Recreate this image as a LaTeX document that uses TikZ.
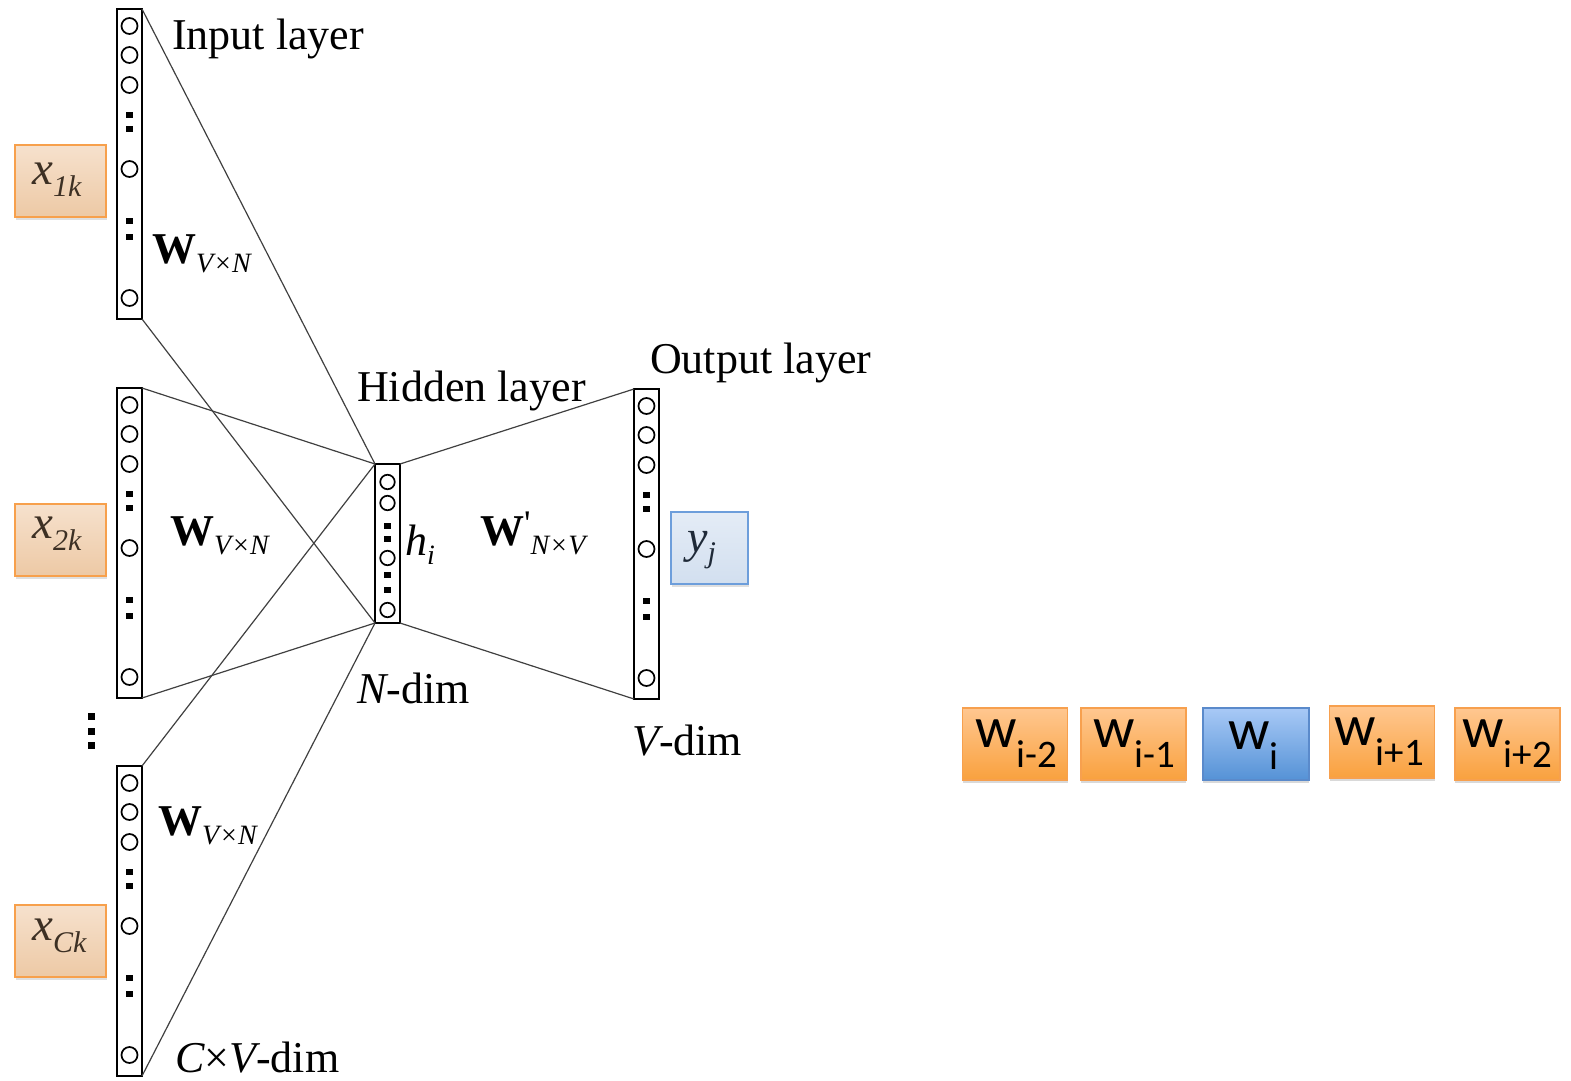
\documentclass[tikz,border=0pt]{standalone}
\usepackage{fontspec}
\setmainfont{Liberation Serif}
\newfontfamily\wordfont{Carlito}
\usetikzlibrary{shadows}
\newcommand{\myfs}[1]{\fontsize{#1}{#1}\selectfont}
\definecolor{wotop}{HTML}{FFC790}
\definecolor{wobot}{HTML}{F9A13E}
\definecolor{woline}{HTML}{F7A04E}
\definecolor{wbtop}{HTML}{A8C9F6}
\definecolor{wbbot}{HTML}{5592D6}
\definecolor{wbline}{HTML}{5A8ACB}
\definecolor{xtop}{HTML}{F6E1CD}
\definecolor{xbot}{HTML}{EDC9A5}
\definecolor{xline}{HTML}{F7A04C}
\definecolor{ytop}{HTML}{E4ECF6}
\definecolor{ybot}{HTML}{D2DFEF}
\definecolor{yline}{HTML}{6D9EDB}
\definecolor{xtext}{HTML}{3D3024}
\definecolor{ytext}{HTML}{1F2A38}
\newcommand{\colbox}[3]{%
  \node[layerbox, minimum height=310] (#1) at (#2, #3+155) {};
  \foreach \o [count=\k] in {17,46,76,160,289} \node[neuron] (#1n\k) at (#2, #3+\o) {};
  \foreach \o [count=\k] in {106,120,212,228} \node[dotsq] (#1d\k) at (#2, #3+\o) {};
}
\begin{document}
\begin{tikzpicture}[x=1pt,y=-1pt,
  layerbox/.style={draw, line width=2.2pt, minimum width=25, inner sep=0pt, outer sep=0pt},
  neuron/.style={circle, draw, line width=1.7pt, minimum size=16pt, inner sep=0pt},
  hneuron/.style={circle, draw, line width=1.7pt, minimum size=14.5pt, inner sep=0pt},
  dotsq/.style={fill, minimum size=6.5pt, inner sep=0pt},
  conn/.style={draw=black!75, line width=1.2pt},
  lab/.style={anchor=base west, inner sep=0pt, font=\myfs{44}},
  wlab/.style={anchor=base west, inner sep=0pt, font=\myfs{44}},
  xbox/.style={draw=xline, line width=1.5pt, top color=xtop, bottom color=xbot, minimum width=91pt, minimum height=72pt, inner sep=0pt, drop shadow={opacity=0.25, shadow xshift=1pt, shadow yshift=-3pt}},
  ybox/.style={draw=yline, line width=1.5pt, top color=ytop, bottom color=ybot, minimum width=77pt, minimum height=72pt, inner sep=0pt, drop shadow={opacity=0.25, shadow xshift=1pt, shadow yshift=-3pt}},
  wordo/.style={draw=woline, line width=1.2pt, top color=wotop, bottom color=wobot, minimum width=105pt, minimum height=72pt, inner sep=0pt, drop shadow={opacity=0.3, shadow xshift=0pt, shadow yshift=-3pt}},
  wordb/.style={draw=wbline, line width=1.2pt, top color=wbtop, bottom color=wbbot, minimum width=106pt, minimum height=72pt, inner sep=0pt, drop shadow={opacity=0.3, shadow xshift=0pt, shadow yshift=-3pt}},
  wtxt/.style={anchor=base west, inner sep=0pt, font=\wordfont\myfs{58}}
]
\useasboundingbox (0,0) rectangle (1571,1081);

% input layers
\colbox{inA}{129.5}{9}
\colbox{inB}{129.5}{388}
\colbox{inC}{129.5}{766}
% output layer
\colbox{out}{646.5}{389}

% hidden layer
\node[layerbox, minimum height=159] (hid) at (387.5,543.5) {};
\foreach \o [count=\k] in {18,39,94,146} \node[hneuron] (hidn\k) at (387.5, 464+\o) {};
\foreach \o [count=\k] in {62,75,111,126} \node[dotsq] (hidd\k) at (387.5, 464+\o) {};

% connectors
\draw[conn] (inA.north east) -- (hid.north west);
\draw[conn] (inA.south east) -- (hid.south west);
\draw[conn] (inB.north east) -- (hid.north west);
\draw[conn] (inB.south east) -- (hid.south west);
\draw[conn] (inC.north east) -- (hid.north west);
\draw[conn] (inC.south east) -- (hid.south west);
\draw[conn] (hid.north east) -- (out.north west);
\draw[conn] (hid.south east) -- (out.south west);

% vertical dots between input layers
\foreach \y [count=\k] in {716,731,745} \node[dotsq, minimum size=7pt] (vd\k) at (91,\y) {};

% labels
\node[lab] (linput) at (172,50) {Input layer};
\node[lab] (lhidden) at (357,401) {Hidden layer};
\node[lab] (loutput) at (650,373) {Output layer};
\node[lab] (lndim) at (357,703) {\itshape N\upshape -dim};
\node[lab] (lvdim) at (632,755) {\itshape V\upshape -dim};
\node[lab] (lcvdim) at (175,1072) {\itshape C\upshape ×\itshape V\upshape -dim};

\node[wlab] (wA) at (152,263) {\bfseries W\raisebox{-9pt}{\myfs{28}\mdseries\itshape V×N}};
\node[wlab] (wB) at (170,545) {\bfseries W\raisebox{-9pt}{\myfs{28}\mdseries\itshape V×N}};
\node[wlab] (wC) at (158,835) {\bfseries W\raisebox{-9pt}{\myfs{28}\mdseries\itshape V×N}};
\node[wlab] (wO) at (480,545) {\bfseries W{\mdseries\myfs{36}\raisebox{10pt}{\textquotesingle}}\raisebox{-9pt}{\myfs{28}\mdseries\itshape N×V}};
\node[lab] (hlab) at (405,555) {\itshape h\raisebox{-9pt}{\myfs{28}i}};

% x and y boxes
\node[xbox] (x1) at (60.5,181) {};
\node[xbox] (x2) at (60.5,540) {};
\node[xbox] (x3) at (60.5,941) {};
\node[lab, text=xtext] (x1t) at (32,184) {\myfs{47}\itshape x\raisebox{-12pt}{\myfs{30}1k}};
\node[lab, text=xtext] (x2t) at (32,538) {\myfs{47}\itshape x\raisebox{-12pt}{\myfs{30}2k}};
\node[lab, text=xtext] (x3t) at (32,940) {\myfs{47}\itshape x\raisebox{-12pt}{\myfs{30}Ck}};
\node[ybox] (yb) at (709.5,548) {};
\node[lab, text=ytext] (ybt) at (687,552) {\myfs{46}\itshape y\raisebox{-10pt}{\myfs{30}j}};

% context words
\node[wordo] (c1) at (1015,744) {};
\node[wordo] (c2) at (1133.5,744) {};
\node[wordb] (c3) at (1256,744) {};
\node[wordo] (c4) at (1382,742) {};
\node[wordo] (c5) at (1507.5,744) {};
\node[wtxt] (c1t) at (975,747) {w\raisebox{-20pt}{\myfs{39}i-2}};
\node[wtxt] (c2t) at (1093,747) {w\raisebox{-20pt}{\myfs{39}i-1}};
\node[wtxt] (c3t) at (1228,749) {w\raisebox{-20pt}{\myfs{39}i}};
\node[wtxt] (c4t) at (1334,745) {w\raisebox{-20pt}{\myfs{39}i+1}};
\node[wtxt] (c5t) at (1462,747) {w\raisebox{-20pt}{\myfs{39}i+2}};
\end{tikzpicture}
\end{document}
